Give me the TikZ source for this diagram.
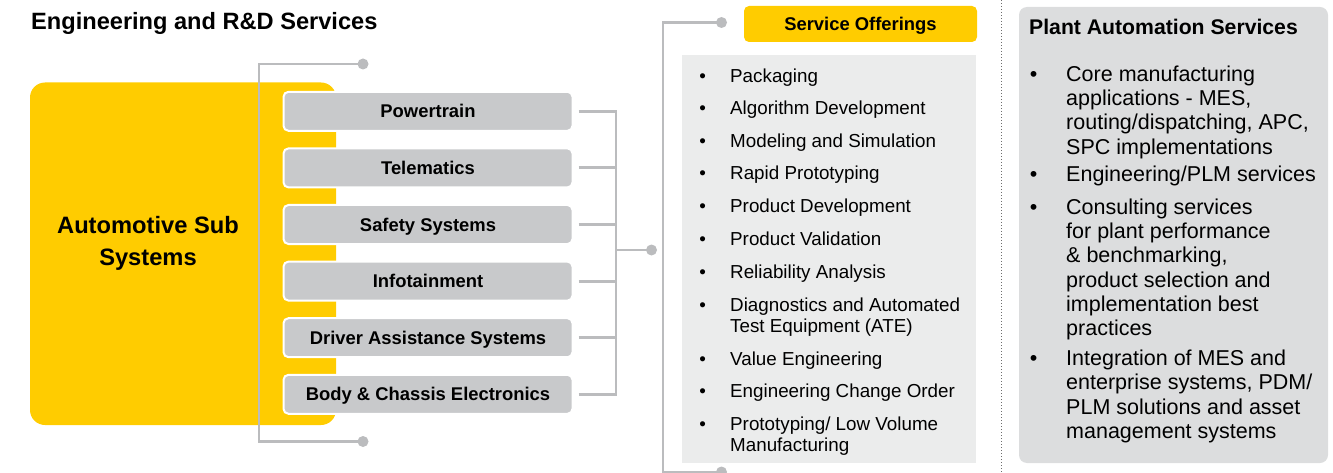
\documentclass[tikz,border=0pt]{standalone}
\usepackage{fontspec}
\setmainfont{Liberation Sans}
\definecolor{ylw}{RGB}{255,204,0}
\definecolor{boxgray}{RGB}{200,201,203}
\definecolor{linegray}{RGB}{187,188,190}
\definecolor{panelgray}{RGB}{235,236,236}
\definecolor{rightgray}{RGB}{220,221,222}
\definecolor{sepgray}{RGB}{110,110,110}
\tikzset{
  subbox/.style={fill=boxgray, draw=white, line width=2pt, rounded corners=5pt,
    minimum width=289pt, minimum height=39pt, inner sep=0pt,
    font=\fontsize{18.4}{22}\selectfont\bfseries, text height=13.2pt, text depth=0pt},
  conn/.style={draw=linegray, line width=2.9pt},
  enddot/.style={circle, fill=linegray, inner sep=0pt, minimum size=11pt},
  midtxt/.style={anchor=base west, inner sep=0pt, font=\fontsize{18.8}{22}\selectfont},
  midbul/.style={anchor=base, inner sep=0pt, font=\fontsize{18.8}{22}\selectfont},
  rtxt/.style={anchor=base west, inner sep=0pt, font=\fontsize{21.5}{24}\selectfont},
  rbul/.style={anchor=base, inner sep=0pt, font=\fontsize{21.5}{24}\selectfont},
}
\begin{document}
\begin{tikzpicture}[x=1pt,y=-1pt]
\useasboundingbox (0,0) rectangle (1333,473);

% title
\node[anchor=base west, inner sep=0pt, font=\fontsize{23.6}{26}\selectfont\bfseries] (title) at (31,29.3) {Engineering and R\&D Services};

% yellow block
\node[fill=ylw, rounded corners=15pt, minimum width=306pt, minimum height=342.5pt, inner sep=0pt] (auto) at (183,253.75) {};
\node[anchor=base, align=center, inner sep=0pt, font=\fontsize{23.7}{32}\selectfont\bfseries] (autotext) at (148,265) {Automotive Sub\\Systems};

% sub-system boxes
\node[subbox] (pt) at (428,111.3) {Powertrain};
\node[subbox] (tm) at (428,167.9) {Telematics};
\node[subbox] (ss) at (428,224.5) {Safety Systems};
\node[subbox] (it) at (428,281.1) {Infotainment};
\node[subbox] (da) at (428,337.7) {Driver Assistance Systems};
\node[subbox] (bc) at (428,394.3) {Body \& Chassis Electronics};

% left bracket
\node[enddot] (lt) at (363,64) {};
\node[enddot] (lb) at (363,441.5) {};
\draw[conn] (lt.center) -- ++(-104,0) |- (lb.center);

% right bracket
\node[enddot] (hubdot) at (651.5,250) {};
\coordinate (hub) at (616,250);
\foreach \b in {pt,tm,ss,it,da,bc}{
  \draw[conn] ([xshift=5pt]\b.east) -| (hub);
}
\draw[conn] (hub) -- (hubdot.center);

% service offerings
\node[fill=panelgray, minimum width=294pt, minimum height=408pt, inner sep=0pt] (offers) at (829,259) {};
\node[fill=ylw, rounded corners=5pt, minimum width=233pt, minimum height=36pt, inner sep=0pt,
  font=\fontsize{18.4}{22}\selectfont\bfseries, text height=13.2pt, text depth=0pt] (so) at (860.5,24) {Service Offerings};
\node[enddot] (st) at (721.5,22.5) {};
\node[enddot] (sb) at (721.5,472) {};
\draw[conn] (st.center) -- ++(-58.5,0) |- (sb.center);

\foreach \y/\t [count=\i] in {82.5/{Packaging}, 115/{Algorithm Development}, 147.5/{Modeling and Simulation},
  180/{Rapid Prototyping}, 213/{Product Development}, 245.5/{Product Validation}, 278.5/{Reliability Analysis},
  311.5/{Diagnostics and Automated}, 365.5/{Value Engineering}, 397.5/{Engineering Change Order},
  430.5/{Prototyping/ Low Volume}}{
  \node[midbul] (mb\i) at (702.7,\y) {\textbullet};
  \node[midtxt] (mt\i) at (730,\y) {\t};
}
\node[midtxt] (mt8b) at (730,332.5) {Test Equipment (ATE)};
\node[midtxt] (mt11b) at (730,451.5) {Manufacturing};

% separator
\coordinate (septop) at (1001,0);
\coordinate (sepbot) at (1001,473);
\draw[sepgray, line width=0.9pt, dash pattern=on 0.9pt off 2.1pt] (septop) -- (sepbot);

% plant automation panel
\node[fill=rightgray, rounded corners=8pt, minimum width=309pt, minimum height=456pt, inner sep=0pt] (plant) at (1173.5,235) {};
\node[anchor=base west, inner sep=0pt, font=\fontsize{21.2}{24}\selectfont\bfseries] (ptitle) at (1029,35) {Plant Automation Services};

\foreach \y [count=\i] in {81.5,182,214.5,365.7}{
  \node[rbul] (rb\i) at (1033.5,\y) {\textbullet};
}
\foreach \y/\t [count=\i] in {81.5/{Core manufacturing}, 105.7/{applications - MES,},
  129.9/{routing/dispatching, APC,}, 154.1/{SPC implementations}, 182/{Engineering/PLM services},
  214.5/{Consulting services}, 238.7/{for plant performance}, 262.9/{\& benchmarking,},
  287.1/{product selection and}, 311.3/{implementation best}, 335.5/{practices},
  365.7/{Integration of MES and}, 389.9/{enterprise systems, PDM/}, 414.1/{PLM solutions and asset},
  438.3/{management systems}}{
  \node[rtxt] (rt\i) at (1066,\y) {\t};
}
\end{tikzpicture}
\end{document}
